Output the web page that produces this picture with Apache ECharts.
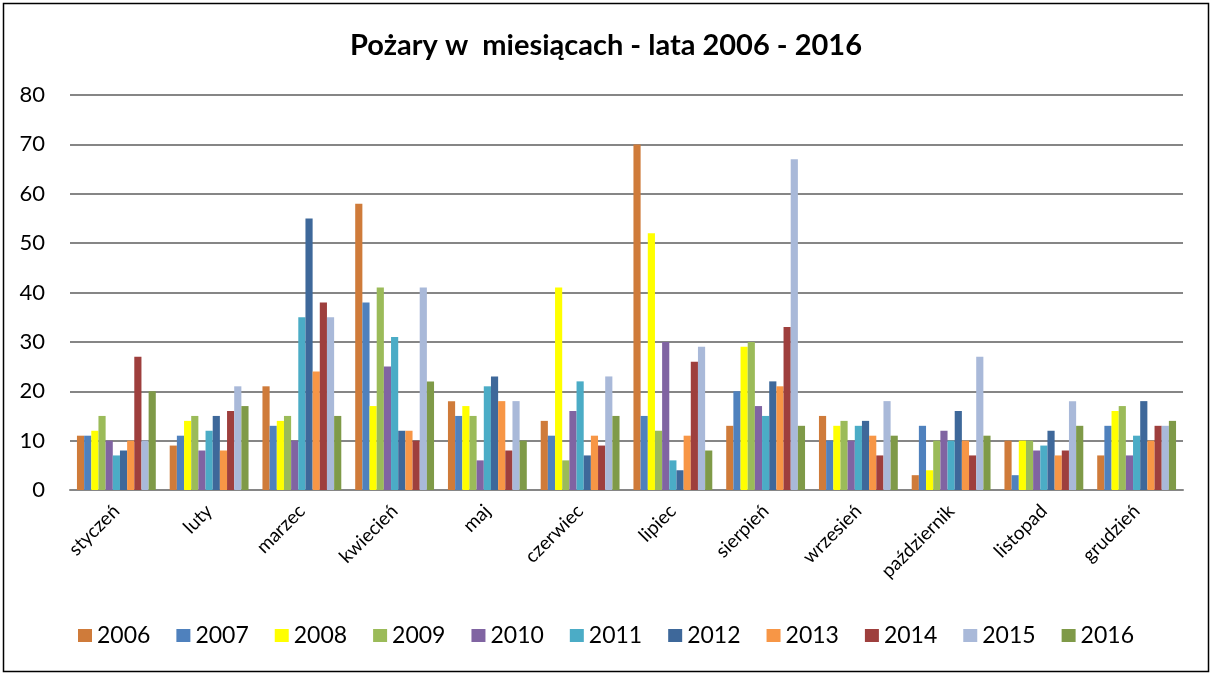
<!DOCTYPE html>
<html>
<head>
<meta charset="utf-8">
<script src="https://cdn.jsdelivr.net/npm/echarts@6/dist/echarts.min.js"></script>
<style>
html,body{margin:0;padding:0;background:#fff;}
#chart{width:1212px;height:675px;}
</style>
</head>
<body>
<div id="chart"></div>
<script>
const months = ['styczeń','luty','marzec','kwiecień','maj','czerwiec','lipiec','sierpień','wrzesień','październik','listopad','grudzień'];
const years = ['2006','2007','2008','2009','2010','2011','2012','2013','2014','2015','2016'];
const y2006 = [11, 9, 21, 58, 18, 14, 70, 13, 15, 3, 10, 7];
const y2007 = [11, 11, 13, 38, 15, 11, 15, 20, 10, 13, 3, 13];
const y2008 = [12, 14, 14, 17, 17, 41, 52, 29, 13, 4, 10, 16];
const y2009 = [15, 15, 15, 41, 15, 6, 12, 30, 14, 10, 10, 17];
const y2010 = [10, 8, 10, 25, 6, 16, 30, 17, 10, 12, 8, 7];
const y2011 = [7, 12, 35, 31, 21, 22, 6, 15, 13, 10, 9, 11];
const y2012 = [8, 15, 55, 12, 23, 7, 4, 22, 14, 16, 12, 18];
const y2013 = [10, 8, 24, 12, 18, 11, 11, 21, 11, 10, 7, 10];
const y2014 = [27, 16, 38, 10, 8, 9, 26, 33, 7, 7, 8, 13];
const y2015 = [10, 21, 35, 41, 18, 23, 29, 67, 18, 27, 18, 13];
const y2016 = [20, 17, 15, 22, 10, 15, 8, 13, 11, 11, 13, 14];
const yTicks = [0, 10, 20, 30, 40, 50, 60, 70, 80];

const seriesData = [y2006, y2007, y2008, y2009, y2010, y2011, y2012, y2013, y2014, y2015, y2016];
const colors = ['#CF7B3A','#4F81BD','#FFFF00','#9BBB59','#8064A2','#4BACC6','#3E689A','#F79646','#9E3F3D','#A9B9D9','#7F9A48'];
const FONT = 'Lato, "Open Sans", sans-serif';

const chart = echarts.init(document.getElementById('chart'), null, {renderer:'canvas'});
chart.setOption({
  animation: false,
  color: colors,
  textStyle: {fontFamily: FONT},
  title: {
    text: 'Pożary w  miesiącach - lata 2006 - 2016',
    left: 'center',
    top: 26,
    textStyle: {fontFamily: FONT, fontSize: 29, fontWeight: 'bold', color: '#000'}
  },
  graphic: [{
    type: 'rect',
    shape: {x: 3.5, y: 3.5, width: 1205, height: 668},
    style: {fill: 'none', stroke: '#000', lineWidth: 1.5},
    silent: true
  }],
  grid: {left: 70, right: 29, top: 95, bottom: 185, containLabel: false},
  legend: {
    data: years,
    top: 619,
    left: 'center',
    itemWidth: 14,
    itemHeight: 13,
    itemGap: 26,
    icon: 'rect',
    textStyle: {fontFamily: FONT, fontSize: 23, color: '#000'}
  },
  xAxis: {
    type: 'category',
    data: months,
    axisLine: {lineStyle: {color: '#868686', width: 2}},
    axisTick: {show: false},
    axisLabel: {rotate: 45, fontSize: 19, color: '#000', fontFamily: FONT, margin: 18, interval: 0}
  },
  yAxis: {
    type: 'value',
    min: 0,
    max: 80,
    interval: 10,
    axisLine: {show: false},
    axisTick: {show: false},
    axisLabel: {fontSize: 22, color: '#000', fontFamily: FONT, margin: 25,
      formatter: v => yTicks.includes(v) ? String(v) : ''},
    splitLine: {lineStyle: {color: '#868686', width: 2}}
  },
  series: years.map((y, i) => ({
    name: y,
    type: 'bar',
    data: seriesData[i],
    barGap: '0%',
    barCategoryGap: '15%',
    itemStyle: {color: colors[i]}
  }))
});
</script>
</body>
</html>
